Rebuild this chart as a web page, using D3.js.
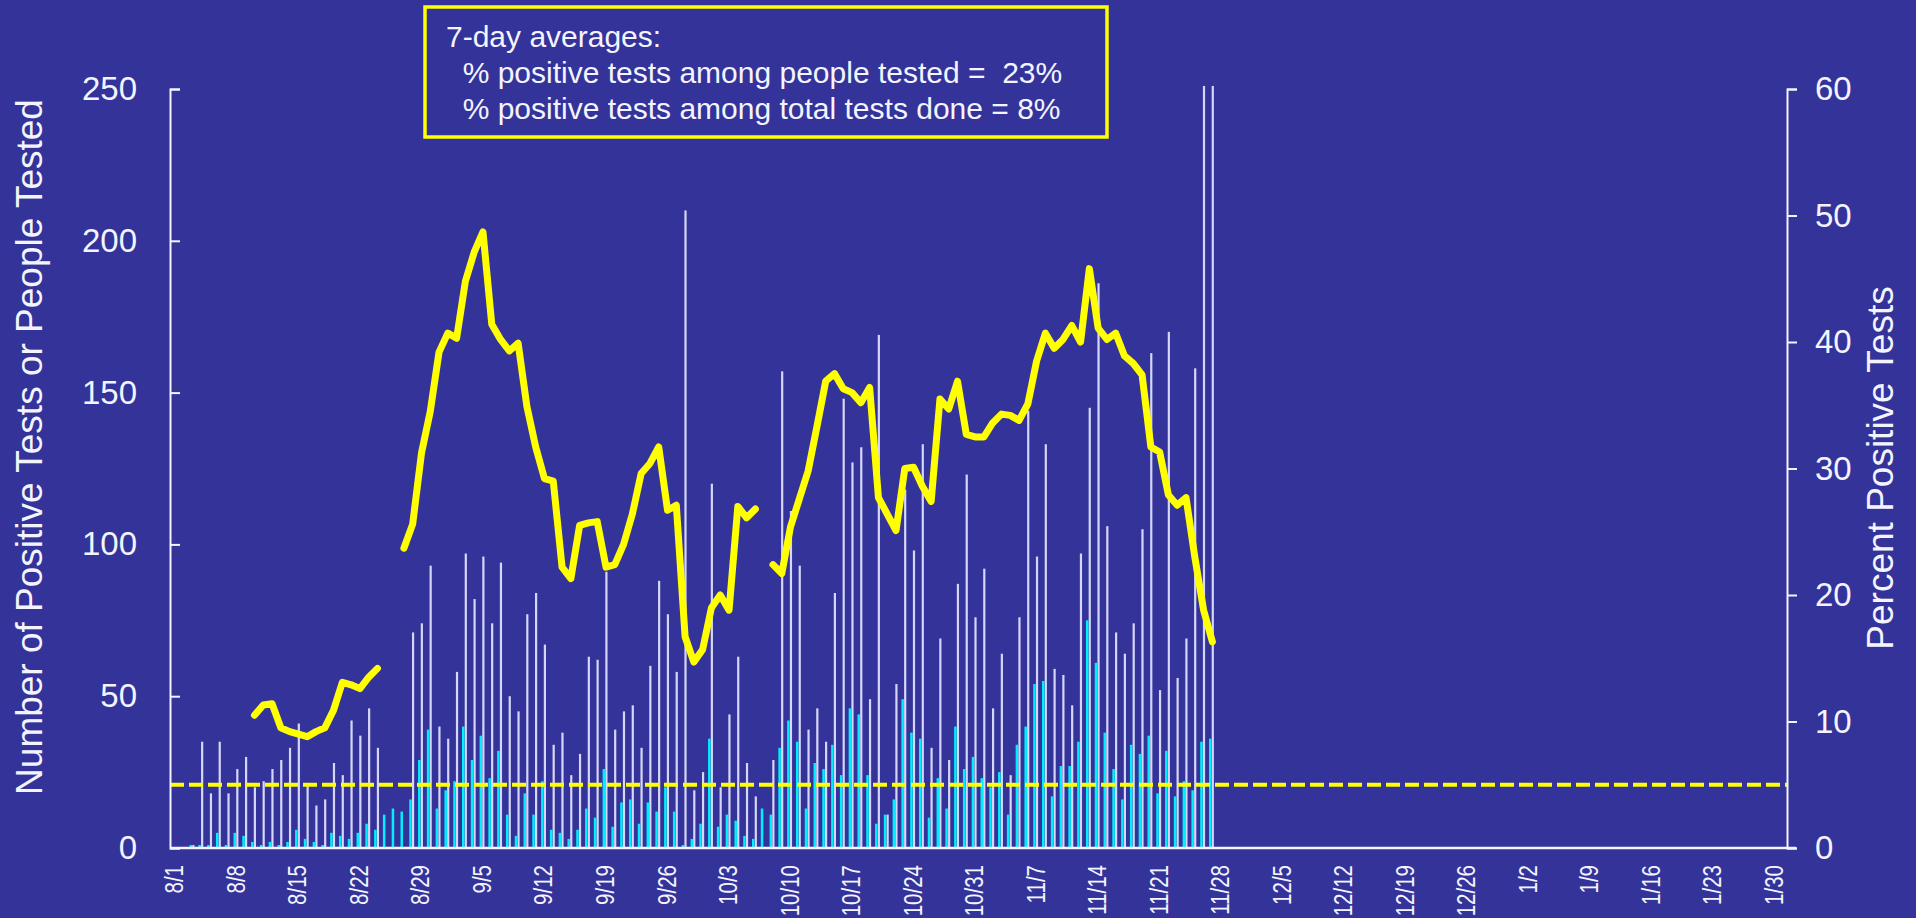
<!DOCTYPE html>
<html>
<head>
<meta charset="utf-8">
<script src="https://cdn.jsdelivr.net/npm/d3@7"></script>
<style>
  html, body { margin: 0; padding: 0; background: #333399; overflow: hidden; }
  text { font-family: "Liberation Sans", Arial, sans-serif; fill: #f4f4ff; }
</style>
</head>
<body>
<script>
// one entry per day starting 8/1 (last reported day 11/27)
var positives = [0, 0, 1, 1, 1, 5, 1, 5, 4, 2, 1, 2, 1, 2, 6, 3, 2, 1, 5, 4,
    3, 5, 8, 6, 11, 13, 12, 16, 29, 39, 13, 19, 22, 40, 29, 37, 23, 32, 11, 4,
    18, 11, 22, 6, 5, 3, 6, 13, 10, 26, 7, 15, 16, 8, 15, 12, 20, 12, 1, 3,
    8, 36, 7, 11, 9, 4, 3, 13, 11, 33, 42, 35, 13, 28, 26, 34, 24, 46, 44, 24,
    8, 11, 16, 49, 38, 36, 10, 23, 13, 40, 26, 30, 23, 20, 25, 11, 34, 40, 54, 55,
    17, 27, 27, 35, 75, 61, 38, 26, 16, 34, 31, 37, 18, 32, 17, 22, 19, 35, 36];

var tested = [0, 0, 1, 35, 18, 35, 18, 26, 30, 20, 22, 26, 29, 33, 41, 21, 14, 16, 28, 24,
    42, 37, 46, 33, 0, 0, 0, 71, 74, 93, 40, 36, 58, 97, 82, 96, 74, 94, 50, 45,
    77, 84, 67, 34, 38, 24, 31, 63, 62, 91, 39, 45, 47, 33, 60, 88, 77, 58, 210, 19,
    25, 120, 20, 44, 63, 28, 17, 0, 29, 157, 111, 93, 39, 46, 35, 84, 148, 127, 132, 49,
    169, 11, 54, 118, 98, 133, 33, 69, 29, 87, 123, 76, 92, 46, 64, 24, 76, 144, 96, 133,
    59, 57, 47, 97, 145, 186, 106, 71, 64, 74, 105, 163, 52, 170, 56, 69, 158, 251, 251];

// 7-day percent positive, null where not reported
var pctPositive = [null, null, null, null, null, null, null, null, null, 10.5,
    11.3, 11.4, 9.5, 9.2, 9.0, 8.8, 9.2, 9.5, 10.9, 13.1,
    12.9, 12.6, 13.5, 14.2, null, null, 23.7, 25.6, 31.2, 34.5,
    39.2, 40.7, 40.3, 44.8, 47.1, 48.7, 41.4, 40.2, 39.3, 39.9,
    34.9, 31.7, 29.2, 29.0, 22.2, 21.3, 25.5, 25.7, 25.8, 22.2,
    22.4, 24.0, 26.4, 29.6, 30.4, 31.7, 26.7, 27.1, 16.7, 14.7,
    15.7, 19.0, 20.0, 18.8, 27.0, 26.1, 26.8, null, 22.4, 21.7,
    25.4, 27.6, 29.8, 33.3, 36.9, 37.5, 36.3, 36.0, 35.2, 36.4,
    27.7, 26.4, 25.1, 30.0, 30.1, 28.6, 27.4, 35.5, 34.7, 36.9,
    32.7, 32.5, 32.5, 33.6, 34.3, 34.2, 33.8, 35.1, 38.5, 40.7,
    39.5, 40.2, 41.3, 40.0, 45.8, 41.1, 40.2, 40.7, 38.9, 38.3,
    37.4, 31.7, 31.3, 27.9, 27.1, 27.7, 23.0, 18.8, 16.3];

var tickLabels = ["8/1", "8/8", "8/15", "8/22", "8/29", "9/5", "9/12", "9/19", "9/26",
    "10/3", "10/10", "10/17", "10/24", "10/31", "11/7", "11/14", "11/21", "11/28",
    "12/5", "12/12", "12/19", "12/26", "1/2", "1/9", "1/16", "1/23", "1/30"];

var boxLines = ["7-day averages:",
    "  % positive tests among people tested =  23%",
    "  % positive tests among total tests done = 8%"];

var goalPct = 5;

window.onload = function(){
    var width = 1916, height = 918;
    var left = 170, right = 1787, top = 89, bottom = 848;

    var svg = d3.select("body")
        .append("svg")
        .attr("width", width)
        .attr("height", height)
        .style("display", "block")
        .style("background-color", "#333399");

    //all days from 8/1 to 1/31 as category keys
    var days = d3.timeDay.range(new Date(2020, 7, 1), new Date(2021, 1, 1));
    var fmt = function(d){ return (d.getMonth() + 1) + "/" + d.getDate(); };
    var dayKeys = days.map(fmt);

    var x = d3.scaleBand()
        .domain(dayKeys)
        .range([left, right]);

    var y = d3.scaleLinear().domain([0, 250]).range([bottom, top]);
    var yPct = d3.scaleLinear().domain([0, 60]).range([bottom, top]);

    var rows = positives.map(function(p, i){
        return {key: dayKeys[i], pos: p, tested: tested[i], pct: pctPositive[i]};
    });

    var cx = function(d){ return x(d.key) + x.bandwidth() / 2; };

    //people tested bars (right of pair)
    svg.append("g").selectAll("rect")
        .data(rows.filter(function(d){ return d.tested > 0; }))
        .enter()
        .append("rect")
        .attr("x", function(d){ return cx(d) + 0.3; })
        .attr("width", 2.2)
        .attr("y", function(d){ return y(d.tested); })
        .attr("height", function(d){ return bottom - y(d.tested); })
        .style("fill", "#d6d6fa");

    //positive tests bars (left of pair)
    svg.append("g").selectAll("rect")
        .data(rows.filter(function(d){ return d.pos > 0; }))
        .enter()
        .append("rect")
        .attr("x", function(d){ return cx(d) - 2.4; })
        .attr("width", 2.5)
        .attr("y", function(d){ return y(d.pos); })
        .attr("height", function(d){ return bottom - y(d.pos); })
        .style("fill", "#00eeff");

    //5% goal line
    svg.append("line")
        .attr("x1", left)
        .attr("x2", right)
        .attr("y1", yPct(goalPct))
        .attr("y2", yPct(goalPct))
        .style("stroke", "#ffff00")
        .style("stroke-width", 4)
        .style("stroke-dasharray", "14,5");

    //percent positive line
    var line = d3.line()
        .defined(function(d){ return d.pct !== null; })
        .x(function(d){ return cx(d) + 1; })
        .y(function(d){ return yPct(d.pct); });

    svg.append("path")
        .datum(rows)
        .attr("d", line)
        .style("fill", "none")
        .style("stroke", "#ffff00")
        .style("stroke-width", 7)
        .style("stroke-linejoin", "round")
        .style("stroke-linecap", "round");

    //left axis, ticks pointing into the plot
    var yAxis = d3.axisLeft(y)
        .tickValues([0, 50, 100, 150, 200, 250])
        .tickSizeInner(-10)
        .tickSizeOuter(-10)
        .tickPadding(33);

    var gy = svg.append("g")
        .attr("transform", "translate(" + left + ",0)")
        .call(yAxis);

    //right axis
    var yAxisR = d3.axisRight(yPct)
        .tickValues([0, 10, 20, 30, 40, 50, 60])
        .tickSizeInner(10)
        .tickSizeOuter(10)
        .tickPadding(18);

    var gr = svg.append("g")
        .attr("transform", "translate(" + right + ",0)")
        .call(yAxisR);

    [gy, gr].forEach(function(g){
        g.selectAll("path, line").style("stroke", "#f4f4ff").style("stroke-width", 2);
        g.selectAll("text")
            .style("font-size", "33px")
            .style("font-family", "'Liberation Sans', Arial, sans-serif")
            .style("fill", "#f4f4ff");
    });

    //x axis line
    svg.append("line")
        .attr("x1", left)
        .attr("x2", right + 9)
        .attr("y1", bottom)
        .attr("y2", bottom)
        .style("stroke", "#f4f4ff")
        .style("stroke-width", 2.5);

    //rotated date labels
    svg.append("g").selectAll("text")
        .data(tickLabels)
        .enter()
        .append("text")
        .attr("transform", function(d){
            var px = x(d) + x.bandwidth() / 2 + 9;
            return "translate(" + px + ",865) rotate(-90) scale(0.82,1)";
        })
        .attr("text-anchor", "end")
        .style("font-size", "25px")
        .text(function(d){ return d; });

    //axis titles
    svg.append("text")
        .attr("transform", "translate(42,447) rotate(-90)")
        .attr("text-anchor", "middle")
        .style("font-size", "37px")
        .text("Number of Positive Tests or People Tested");

    svg.append("text")
        .attr("transform", "translate(1893,468) rotate(-90)")
        .attr("text-anchor", "middle")
        .style("font-size", "37px")
        .text("Percent Positive Tests");

    //averages box
    var box = svg.append("g");
    box.append("rect")
        .attr("x", 425)
        .attr("y", 7)
        .attr("width", 682)
        .attr("height", 130)
        .style("fill", "#333399")
        .style("stroke", "#ffff00")
        .style("stroke-width", 3.5);

    box.selectAll("text")
        .data(boxLines)
        .enter()
        .append("text")
        .attr("x", 446)
        .attr("y", function(d, i){ return 47 + i * 36; })
        .attr("xml:space", "preserve")
        .style("white-space", "pre")
        .style("font-size", "30px")
        .text(function(d){ return d; });
};
</script>
</body>
</html>
